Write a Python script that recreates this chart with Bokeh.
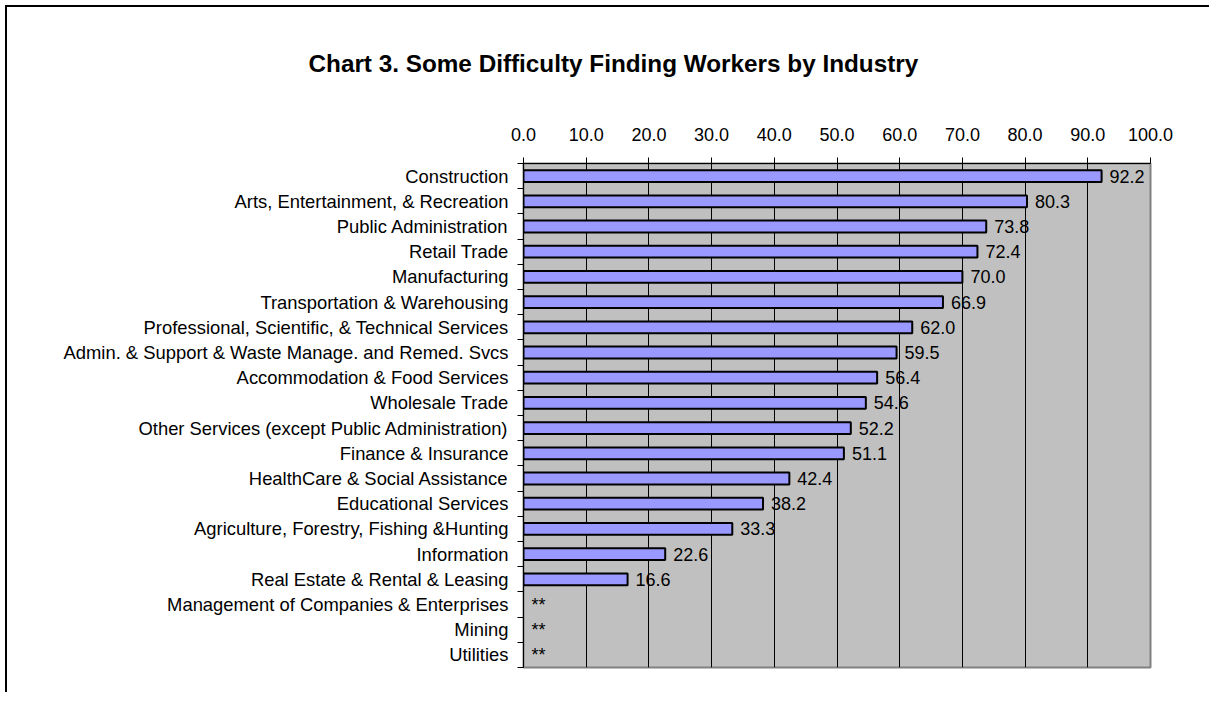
from bokeh.plotting import figure
from bokeh.models import (ColumnDataSource, Range1d, FixedTicker, NumeralTickFormatter,
                          InlineStyleSheet)
from bokeh.core.properties import value
from bokeh.embed import file_html
from bokeh.resources import INLINE

title_text = "Chart 3.  Some Difficulty Finding Workers by Industry"
categories = [
    "Construction",
    "Arts, Entertainment, & Recreation",
    "Public Administration",
    "Retail Trade",
    "Manufacturing",
    "Transportation & Warehousing",
    "Professional, Scientific, & Technical Services",
    "Admin. & Support & Waste Manage. and Remed. Svcs",
    "Accommodation & Food Services",
    "Wholesale Trade",
    "Other Services (except Public Administration)",
    "Finance & Insurance",
    "HealthCare & Social Assistance",
    "Educational Services",
    "Agriculture, Forestry, Fishing &Hunting",
    "Information",
    "Real Estate & Rental & Leasing",
    "Management of Companies & Enterprises",
    "Mining",
    "Utilities",
]
values = [92.2, 80.3, 73.8, 72.4, 70.0, 66.9, 62.0, 59.5, 56.4, 54.6,
          52.2, 51.1, 42.4, 38.2, 33.3, 22.6, 16.6, None, None, None]
x_ticks = [0, 10, 20, 30, 40, 50, 60, 70, 80, 90, 100]

FONT = "Liberation Sans"
n = len(categories)
ypos = [n - 1 - i for i in range(n)]
bar_vals = [v if v is not None else float("nan") for v in values]
label_x = [v if v is not None else 0 for v in values]
label_text = [f"{v:.1f}" if v is not None else "**" for v in values]

src = ColumnDataSource(dict(y=ypos, v=bar_vals, lx=label_x, lt=label_text, cat=categories))

W, H = 1209, 692
FL, FT, FR, FB = 523, 162, 1150, 667
p = figure(width=W, height=H, output_backend="svg", toolbar_location=None,
           x_range=Range1d(0, 100), y_range=Range1d(-0.5, n - 0.5),
           x_axis_location="above",
           min_border_left=FL, min_border_right=W - FR,
           min_border_top=FT, min_border_bottom=H - FB)

p.title.text = title_text
p.title.align = "left"
p.title.offset = 308 - FL
p.title.text_font = FONT
p.title.text_font_size = "24.3px"
p.title.text_font_style = "bold"
p.title.text_color = "black"
p.title.standoff = 95

# outer chart border (left and top edges visible; the rest lies past the window)
p.stylesheets = [InlineStyleSheet(css=(
    ":host::before { content: ''; position: absolute; left: 5px; top: 5px; "
    "width: 2px; bottom: 0; background: black; border: none; pointer-events: none; z-index: 10; }"
    ":host::after { content: ''; position: absolute; left: 5px; top: 5px; "
    "right: 0; height: 2px; background: black; border: none; pointer-events: none; z-index: 10; }"))]

p.background_fill_color = "#C0C0C0"
p.border_fill_color = "white"
p.outline_line_color = "#808080"
p.outline_line_width = 2

p.hbar(y="y", left=0, right="v", height=0.47, source=src,
       fill_color="#9999FF", line_color="black", line_width=2)

p.text(x="lx", y="y", text="lt", source=src, x_offset=8,
       text_baseline="middle", text_align="left",
       text_font=value(FONT), text_font_size="18px", text_color="black")

# grid
p.xgrid.ticker = FixedTicker(ticks=x_ticks[1:-1])
p.xgrid.grid_line_color = "black"
p.xgrid.grid_line_width = 1
p.ygrid.grid_line_color = None

# x axis (above)
xa = p.xaxis[0]
xa.ticker = FixedTicker(ticks=x_ticks)
xa.formatter = NumeralTickFormatter(format="0.0")
xa.major_tick_out = 6
xa.major_tick_in = 0
xa.minor_tick_line_color = None
xa.major_tick_line_color = "black"
xa.axis_line_color = "black"
xa.major_label_text_font = FONT
xa.major_label_text_font_size = "18px"
xa.major_label_text_color = "black"
xa.major_label_standoff = 17

# y axis
ya = p.yaxis[0]
ya.ticker = FixedTicker(ticks=ypos, minor_ticks=[k - 0.5 for k in range(n + 1)])
ya.major_label_overrides = {y: c for y, c in zip(ypos, categories)}
ya.major_tick_line_color = None
ya.major_tick_out = 6
ya.major_tick_in = 0
ya.minor_tick_out = 6
ya.minor_tick_in = 0
ya.minor_tick_line_color = "black"
ya.axis_line_color = "black"
ya.major_label_text_font = FONT
ya.major_label_text_font_size = "18.4px"
ya.major_label_text_color = "black"
ya.major_label_standoff = 9

open("out.html", "w").write(file_html(p, INLINE))
